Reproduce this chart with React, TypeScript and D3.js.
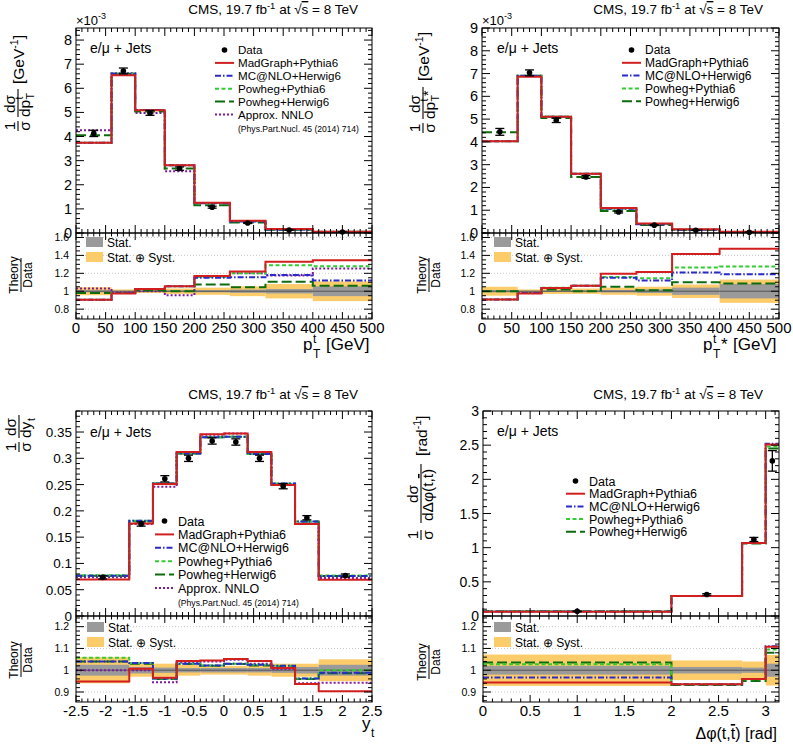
import React from "react";
import * as d3 from "d3";

const FONT = "'Liberation Sans', Arial, Helvetica, sans-serif";
const YELLOW = "#fdcc6a";
const GRAY = "#9a9a9a";

// ===== top-left: p_T^t =====
const ptEdges = [0, 60, 100, 150, 200, 260, 320, 400, 500];
const ptData = [4.13, 6.72, 4.98, 2.67, 1.07, 0.415, 0.125, 0.04];
const ptDataErr = [0.13, 0.12, 0.1, 0.07, 0.04, 0.02, 0.008, 0.004];
const ptMadGraph = [3.74, 6.54, 5.09, 2.81, 1.25, 0.505, 0.166, 0.054];
const ptMcAtNlo = [3.74, 6.6, 5.1, 2.81, 1.23, 0.48, 0.147, 0.045];
const ptPowhegPythia = [3.74, 6.6, 5.1, 2.81, 1.24, 0.498, 0.161, 0.051];
const ptPowhegHerwig = [4.05, 6.6, 5.04, 2.67, 1.15, 0.432, 0.138, 0.042];
const ptNnlo = [4.26, 6.62, 4.98, 2.56, 1.24, 0.498, 0.147, 0.05];
const ptRatioMadGraph = [0.905, 0.975, 1.025, 1.055, 1.17, 1.22, 1.33, 1.345];
const ptRatioMcAtNlo = [0.905, 0.98, 1.025, 1.055, 1.15, 1.155, 1.18, 1.12];
const ptRatioPowhegPythia = [0.905, 0.98, 1.025, 1.055, 1.16, 1.2, 1.29, 1.28];
const ptRatioPowhegHerwig = [0.98, 0.98, 1.01, 1.0, 1.075, 1.045, 1.105, 1.06];
const ptRatioNnlo = [1.03, 0.985, 1.0, 0.955, 1.165, 1.2, 1.175, 1.255];
const ptStat = [0.012, 0.006, 0.007, 0.009, 0.012, 0.018, 0.025, 0.055];
const ptSyst = [0.045, 0.02, 0.02, 0.03, 0.04, 0.055, 0.08, 0.11];

// ===== top-right: p_T^t* =====
const ptsEdges = [0, 60, 100, 150, 200, 260, 320, 400, 500];
const ptsData = [4.44, 7.03, 4.95, 2.46, 0.92, 0.345, 0.12, 0.034];
const ptsDataErr = [0.15, 0.13, 0.1, 0.06, 0.04, 0.02, 0.008, 0.004];
const ptsMadGraph = [4.03, 6.86, 5.1, 2.6, 1.1, 0.42, 0.17, 0.05];
const ptsMcAtNlo = [4.03, 6.9, 5.1, 2.6, 1.06, 0.387, 0.146, 0.04];
const ptsPowhegPythia = [4.03, 6.9, 5.12, 2.6, 1.07, 0.396, 0.152, 0.043];
const ptsPowhegHerwig = [4.42, 6.9, 5.05, 2.46, 0.97, 0.348, 0.132, 0.037];
const ptsRatioMadGraph = [0.908, 0.975, 1.035, 1.06, 1.195, 1.215, 1.415, 1.475];
const ptsRatioMcAtNlo = [0.908, 0.98, 1.035, 1.06, 1.15, 1.12, 1.21, 1.19];
const ptsRatioPowhegPythia = [0.908, 0.98, 1.04, 1.06, 1.16, 1.145, 1.265, 1.275];
const ptsRatioPowhegHerwig = [1.0, 0.98, 1.02, 1.0, 1.05, 1.01, 1.1, 1.085];
const ptsStat = [0.012, 0.006, 0.008, 0.01, 0.014, 0.02, 0.04, 0.08];
const ptsSyst = [0.05, 0.02, 0.03, 0.03, 0.04, 0.05, 0.075, 0.13];

// ===== bottom-left: y_t =====
const ytEdges = [-2.5, -1.6, -1.2, -0.8, -0.4, 0, 0.4, 0.8, 1.2, 1.6, 2.5];
const ytData = [0.0735, 0.175, 0.261, 0.3, 0.333, 0.331, 0.3, 0.247, 0.187, 0.077];
const ytDataErr = [0.003, 0.004, 0.006, 0.006, 0.006, 0.006, 0.006, 0.005, 0.004, 0.003];
const ytMadGraph = [0.0695, 0.176, 0.251, 0.312, 0.346, 0.347, 0.312, 0.249, 0.175, 0.069];
const ytMcAtNlo = [0.0765, 0.181, 0.252, 0.309, 0.34, 0.341, 0.308, 0.252, 0.18, 0.076];
const ytPowhegPythia = [0.0775, 0.181, 0.252, 0.309, 0.34, 0.341, 0.308, 0.252, 0.18, 0.077];
const ytPowhegHerwig = [0.0765, 0.18, 0.252, 0.309, 0.34, 0.341, 0.308, 0.251, 0.18, 0.076];
const ytNnlo = [0.0735, 0.175, 0.246, 0.311, 0.345, 0.347, 0.309, 0.249, 0.176, 0.0725];
const ytRatioMadGraph = [0.948, 1.007, 0.965, 1.042, 1.045, 1.052, 1.042, 1.01, 0.937, 0.903];
const ytRatioMcAtNlo = [1.04, 1.033, 0.962, 1.03, 1.022, 1.03, 1.025, 1.02, 0.962, 0.988];
const ytRatioPowhegPythia = [1.057, 1.033, 0.962, 1.03, 1.022, 1.03, 1.025, 1.02, 0.962, 1.0];
const ytRatioPowhegHerwig = [1.04, 1.03, 0.96, 1.028, 1.02, 1.028, 1.022, 1.017, 0.96, 0.986];
const ytRatioNnlo = [1.0, 1.0, 0.945, 1.036, 1.04, 1.048, 1.03, 1.006, 0.94, 0.942];
const ytStat = [0.025, 0.015, 0.012, 0.01, 0.01, 0.01, 0.01, 0.012, 0.015, 0.025];
const ytSyst = [0.06, 0.03, 0.03, 0.025, 0.02, 0.02, 0.025, 0.03, 0.03, 0.05];

// ===== bottom-right: delta phi(t, tbar) =====
const dphiEdges = [0, 2, 2.75, 3, Math.PI];
const dphiData = [0.068, 0.315, 1.12, 2.27];
const dphiDataErr = [0.005, 0.012, 0.03, 0.15];
const dphiMadGraph = [0.064, 0.294, 1.07, 2.51];
const dphiMcAtNlo = [0.066, 0.294, 1.07, 2.52];
const dphiPowhegPythia = [0.07, 0.294, 1.07, 2.48];
const dphiPowhegHerwig = [0.07, 0.292, 1.06, 2.45];
const dphiRatioMadGraph = [0.943, 0.935, 0.96, 1.108];
const dphiRatioMcAtNlo = [0.966, 0.935, 0.96, 1.11];
const dphiRatioPowhegPythia = [1.027, 0.935, 0.958, 1.095];
const dphiRatioPowhegHerwig = [1.035, 0.932, 0.95, 1.08];
const dphiStat = [0.02, 0.015, 0.012, 0.03];
const dphiSyst = [0.072, 0.045, 0.04, 0.07];

// ===== tick labels =====
const ptXTicks = [0, 50, 100, 150, 200, 250, 300, 350, 400, 450, 500];
const ptXLabels = ["0", "50", "100", "150", "200", "250", "300", "350", "400", "450", "500"];
const ytXTicks = [-2.5, -2, -1.5, -1, -0.5, 0, 0.5, 1, 1.5, 2, 2.5];
const ytXLabels = ["-2.5", "-2", "-1.5", "-1", "-0.5", "0", "0.5", "1", "1.5", "2", "2.5"];
const dphiXTicks = [0, 0.5, 1, 1.5, 2, 2.5, 3];
const dphiXLabels = ["0", "0.5", "1", "1.5", "2", "2.5", "3"];
const ptYTicks = [0, 1, 2, 3, 4, 5, 6, 7, 8];
const ptYLabels = ["0", "1", "2", "3", "4", "5", "6", "7", "8"];
const ptsYTicks = [0, 1, 2, 3, 4, 5, 6, 7, 8, 9];
const ptsYLabels = ["0", "1", "2", "3", "4", "5", "6", "7", "8", "9"];
const ytYTicks = [0, 0.05, 0.1, 0.15, 0.2, 0.25, 0.3, 0.35];
const ytYLabels = ["0", "0.05", "0.1", "0.15", "0.2", "0.25", "0.3", "0.35"];
const dphiYTicks = [0, 0.5, 1, 1.5, 2, 2.5, 3];
const dphiYLabels = ["0", "0.5", "1", "1.5", "2", "2.5", "3"];
const rTopTicks = [0.8, 1, 1.2, 1.4, 1.6];
const rTopLabels = ["0.8", "1", "1.2", "1.4", "1.6"];
const rBotTicks = [0.9, 1, 1.1, 1.2];
const rBotLabels = ["0.9", "1", "1.1", "1.2"];

type ModelKey = "mg" | "mc" | "pp" | "ph" | "nnlo";
const STYLE: Record<ModelKey, { color: string; dash?: string; label: string }> = {
  mg: { color: "#d11f1f", label: "MadGraph+Pythia6" },
  mc: { color: "#2a2ac8", dash: "6,2,1.5,2", label: "MC@NLO+Herwig6" },
  pp: { color: "#33cc33", dash: "4,2.5", label: "Powheg+Pythia6" },
  ph: { color: "#0d6b0d", dash: "10,4", label: "Powheg+Herwig6" },
  nnlo: { color: "#7d1a9e", dash: "2,2", label: "Approx. NNLO" },
};

interface PanelCfg {
  id: string;
  left: number; right: number; top: number; mid: number; bottom: number;
  edges: number[]; xDomain: [number, number];
  yDomain: [number, number]; rDomain: [number, number];
  data: number[]; dataErr: number[];
  models: { key: ModelKey; main: number[]; ratio: number[] }[];
  stat: number[]; syst: number[];
  xTicks: number[]; xLabels: string[]; xMinorStep: number;
  yTicks: number[]; yLabels: string[]; yMinorStep: number; yFont: number;
  rTicks: number[]; rLabels: string[]; rMinorStep: number;
  legend: { x: number; y: number; dy: number; font: number; cite: boolean };
  rLegend: { x: number; y: number };
  titleEnd: number; titleY: number;
  tagX: number; tagY: number;
  exp: boolean;
}

const panels: PanelCfg[] = [
  {
    id: "tl", left: 76, right: 372, top: 28, mid: 233, bottom: 319,
    edges: ptEdges, xDomain: [0, 500], yDomain: [0, 8.5], rDomain: [0.69, 1.65],
    data: ptData, dataErr: ptDataErr,
    models: [
      { key: "mg", main: ptMadGraph, ratio: ptRatioMadGraph },
      { key: "mc", main: ptMcAtNlo, ratio: ptRatioMcAtNlo },
      { key: "pp", main: ptPowhegPythia, ratio: ptRatioPowhegPythia },
      { key: "ph", main: ptPowhegHerwig, ratio: ptRatioPowhegHerwig },
      { key: "nnlo", main: ptNnlo, ratio: ptRatioNnlo },
    ],
    stat: ptStat, syst: ptSyst,
    xTicks: ptXTicks, xLabels: ptXLabels, xMinorStep: 10,
    yTicks: ptYTicks, yLabels: ptYLabels, yMinorStep: 0.2, yFont: 14.5,
    rTicks: rTopTicks, rLabels: rTopLabels, rMinorStep: 0.05,
    legend: { x: 215, y: 50, dy: 12.9, font: 11.6, cite: true },
    rLegend: { x: 86, y: 237 },
    titleEnd: 358, titleY: 14, tagX: 90, tagY: 53, exp: true,
  },
  {
    id: "tr", left: 482, right: 779, top: 28, mid: 233, bottom: 319,
    edges: ptsEdges, xDomain: [0, 500], yDomain: [0, 9], rDomain: [0.69, 1.65],
    data: ptsData, dataErr: ptsDataErr,
    models: [
      { key: "mg", main: ptsMadGraph, ratio: ptsRatioMadGraph },
      { key: "mc", main: ptsMcAtNlo, ratio: ptsRatioMcAtNlo },
      { key: "pp", main: ptsPowhegPythia, ratio: ptsRatioPowhegPythia },
      { key: "ph", main: ptsPowhegHerwig, ratio: ptsRatioPowhegHerwig },
    ],
    stat: ptsStat, syst: ptsSyst,
    xTicks: ptXTicks, xLabels: ptXLabels, xMinorStep: 10,
    yTicks: ptsYTicks, yLabels: ptsYLabels, yMinorStep: 0.2, yFont: 14.5,
    rTicks: rTopTicks, rLabels: rTopLabels, rMinorStep: 0.05,
    legend: { x: 622, y: 50, dy: 12.8, font: 12, cite: false },
    rLegend: { x: 494, y: 237 },
    titleEnd: 763, titleY: 14, tagX: 497, tagY: 53, exp: true,
  },
  {
    id: "bl", left: 76, right: 372, top: 411, mid: 616, bottom: 702,
    edges: ytEdges, xDomain: [-2.5, 2.5], yDomain: [0, 0.39], rDomain: [0.854, 1.249],
    data: ytData, dataErr: ytDataErr,
    models: [
      { key: "mg", main: ytMadGraph, ratio: ytRatioMadGraph },
      { key: "mc", main: ytMcAtNlo, ratio: ytRatioMcAtNlo },
      { key: "pp", main: ytPowhegPythia, ratio: ytRatioPowhegPythia },
      { key: "ph", main: ytPowhegHerwig, ratio: ytRatioPowhegHerwig },
      { key: "nnlo", main: ytNnlo, ratio: ytRatioNnlo },
    ],
    stat: ytStat, syst: ytSyst,
    xTicks: ytXTicks, xLabels: ytXLabels, xMinorStep: 0.1,
    yTicks: ytYTicks, yLabels: ytYLabels, yMinorStep: 0.01, yFont: 13.5,
    rTicks: rBotTicks, rLabels: rBotLabels, rMinorStep: 0.02,
    legend: { x: 155, y: 521, dy: 13.4, font: 12.5, cite: true },
    rLegend: { x: 87, y: 622 },
    titleEnd: 358, titleY: 399, tagX: 90, tagY: 437, exp: false,
  },
  {
    id: "br", left: 483, right: 779, top: 411, mid: 616, bottom: 702,
    edges: dphiEdges, xDomain: [0, Math.PI], yDomain: [0, 3], rDomain: [0.854, 1.249],
    data: dphiData, dataErr: dphiDataErr,
    models: [
      { key: "mg", main: dphiMadGraph, ratio: dphiRatioMadGraph },
      { key: "mc", main: dphiMcAtNlo, ratio: dphiRatioMcAtNlo },
      { key: "pp", main: dphiPowhegPythia, ratio: dphiRatioPowhegPythia },
      { key: "ph", main: dphiPowhegHerwig, ratio: dphiRatioPowhegHerwig },
    ],
    stat: dphiStat, syst: dphiSyst,
    xTicks: dphiXTicks, xLabels: dphiXLabels, xMinorStep: 0.1,
    yTicks: dphiYTicks, yLabels: dphiYLabels, yMinorStep: 0.1, yFont: 14,
    rTicks: rBotTicks, rLabels: rBotLabels, rMinorStep: 0.02,
    legend: { x: 566, y: 481, dy: 12.7, font: 12.5, cite: false },
    rLegend: { x: 494, y: 622 },
    titleEnd: 763, titleY: 399, tagX: 497, tagY: 436, exp: false,
  },
];

function minorTicks(domain: [number, number], step: number): number[] {
  const start = Math.ceil(domain[0] / step - 1e-6);
  const end = Math.floor(domain[1] / step + 1e-6);
  return d3.range(start, end + 1).map((k) => k * step);
}

function Panel({ c }: { c: PanelCfg }) {
  const x = d3.scaleLinear().domain(c.xDomain).range([c.left, c.right]);
  const y = d3.scaleLinear().domain(c.yDomain).range([c.mid, c.top]);
  const r = d3.scaleLinear().domain(c.rDomain).range([c.bottom, c.mid]);
  const step = (vals: number[], sc: d3.ScaleLinear<number, number>) =>
    d3
      .line<number>()
      .x((e) => x(e))
      .y((_, i) => sc(vals[Math.min(i, vals.length - 1)]))
      .curve(d3.curveStepAfter)(c.edges) || "";
  const centers = c.edges.slice(0, -1).map((e, i) => (e + c.edges[i + 1]) / 2);
  const W = c.right - c.left;
  const order = [...c.models].reverse();

  let tk = "";
  const seg = (x1: number, y1: number, x2: number, y2: number) => {
    tk += `M${x1},${y1}L${x2},${y2}`;
  };
  minorTicks(c.xDomain, c.xMinorStep).forEach((v) => {
    const px = x(v);
    const major = c.xTicks.some((t) => Math.abs(t - v) < 1e-6);
    const lm = major ? 8 : 4;
    const lr = major ? 7 : 3.5;
    seg(px, c.top, px, c.top + lm);
    seg(px, c.mid, px, c.mid - lm);
    seg(px, c.mid, px, c.mid + lr);
    seg(px, c.bottom, px, c.bottom - lr);
  });
  minorTicks(c.yDomain, c.yMinorStep).forEach((v) => {
    const py = y(v);
    const major = c.yTicks.some((t) => Math.abs(t - v) < 1e-6);
    const l = major ? 8 : 4;
    seg(c.left, py, c.left + l, py);
    seg(c.right, py, c.right - l, py);
  });
  minorTicks(c.rDomain, c.rMinorStep).forEach((v) => {
    const py = r(v);
    const major = c.rTicks.some((t) => Math.abs(t - v) < 1e-6);
    const l = major ? 8 : 4;
    seg(c.left, py, c.left + l, py);
    seg(c.right, py, c.right - l, py);
  });

  const lg = c.legend;
  const legendKeys = c.models.map((m) => m.key);

  return (
    <g>
      <defs>
        <clipPath id={`${c.id}-mc`}>
          <rect x={c.left} y={c.top} width={W} height={c.mid - c.top} />
        </clipPath>
        <clipPath id={`${c.id}-rc`}>
          <rect x={c.left} y={c.mid} width={W} height={c.bottom - c.mid} />
        </clipPath>
      </defs>

      <g clipPath={`url(#${c.id}-rc)`}>
        {c.syst.map((s, i) => (
          <rect key={"sy" + i} x={x(c.edges[i])} width={x(c.edges[i + 1]) - x(c.edges[i])}
            y={r(1 + s)} height={r(1 - s) - r(1 + s)} fill={YELLOW} />
        ))}
        {c.stat.map((s, i) => (
          <rect key={"st" + i} x={x(c.edges[i])} width={x(c.edges[i + 1]) - x(c.edges[i])}
            y={r(1 + s)} height={r(1 - s) - r(1 + s)} fill={GRAY} />
        ))}
        {c.rTicks.filter((t) => t !== 1).map((t) => (
          <line key={"g" + t} x1={c.left} x2={c.right} y1={r(t)} y2={r(t)} stroke="#c8c8c8" strokeDasharray="1,2" strokeWidth={1} />
        ))}
        <line x1={c.left} x2={c.right} y1={r(1)} y2={r(1)} stroke="#555" strokeWidth={1} />
        {order.map((m) => (
          <path key={"r" + m.key} d={step(m.ratio, r)} fill="none" stroke={STYLE[m.key].color}
            strokeWidth={2} strokeDasharray={STYLE[m.key].dash} />
        ))}
      </g>

      <g clipPath={`url(#${c.id}-mc)`}>
        {order.map((m) => (
          <path key={"m" + m.key} d={step(m.main, y)} fill="none" stroke={STYLE[m.key].color}
            strokeWidth={2} strokeDasharray={STYLE[m.key].dash} />
        ))}
      </g>
      {c.data.map((v, i) => {
        const px = x(centers[i]);
        const y1 = y(v - c.dataErr[i]);
        const y2 = y(v + c.dataErr[i]);
        return (
          <g key={"d" + i} stroke="#000" strokeWidth={1.3}>
            <line x1={px} x2={px} y1={y1} y2={y2} />
            <line x1={px - 4.5} x2={px + 4.5} y1={y1} y2={y1} />
            <line x1={px - 4.5} x2={px + 4.5} y1={y2} y2={y2} />
            <circle cx={px} cy={y(v)} r={2.8} fill="#000" stroke="none" />
          </g>
        );
      })}

      <path d={tk} stroke="#000" strokeWidth={1} fill="none" />
      <rect x={c.left} y={c.top} width={W} height={c.mid - c.top} fill="none" stroke="#000" strokeWidth={1} />
      <rect x={c.left} y={c.mid} width={W} height={c.bottom - c.mid} fill="none" stroke="#000" strokeWidth={1} />

      {c.xTicks.map((t, i) => (
        <text key={"xl" + i} x={x(t)} y={c.bottom + 14} fontSize={15} textAnchor="middle">{c.xLabels[i]}</text>
      ))}
      {c.yTicks.map((t, i) => (
        <text key={"yl" + i} x={c.left - 4} y={y(t) + 5} fontSize={c.yFont} textAnchor="end">{c.yLabels[i]}</text>
      ))}
      {c.rTicks.map((t, i) => (
        <text key={"rl" + i} x={c.left - 7} y={r(t) + 3.8} fontSize={10.5} textAnchor="end">{c.rLabels[i]}</text>
      ))}

      <text x={c.titleEnd} y={c.titleY} fontSize={13.5} textAnchor="end">
        CMS, 19.7 fb<tspan fontSize={9.5} dy={-5}>-1</tspan>
        <tspan dy={5}> at </tspan>
        <tspan>√</tspan>
        <tspan style={{ textDecoration: "overline" }}>s</tspan>
        <tspan> = 8 TeV</tspan>
      </text>
      <text x={c.tagX} y={c.tagY} fontSize={14}>e/μ + Jets</text>
      {c.exp && (
        <text x={c.left} y={25} fontSize={13}>
          ×10<tspan fontSize={9} dy={-6}>-3</tspan>
        </text>
      )}

      <circle cx={lg.x + 9.5} cy={lg.y} r={2.8} fill="#000" />
      <text x={lg.x + 23} y={lg.y + lg.font * 0.36} fontSize={lg.font}>Data</text>
      {legendKeys.map((k, i) => {
        const yy = lg.y + lg.dy * (i + 1);
        return (
          <g key={"lg" + k}>
            <line x1={lg.x} x2={lg.x + 19} y1={yy} y2={yy} stroke={STYLE[k].color} strokeWidth={2} strokeDasharray={STYLE[k].dash} />
            <text x={lg.x + 23} y={yy + lg.font * 0.36} fontSize={lg.font}>{STYLE[k].label}</text>
          </g>
        );
      })}
      {lg.cite && (
        <text x={lg.x + 23} y={lg.y + lg.dy * (legendKeys.length + 1) + 5} fontSize={8.6}>
          (Phys.Part.Nucl. 45 (2014) 714)
        </text>
      )}

      <rect x={c.rLegend.x} y={c.rLegend.y} width={17} height={10} fill={GRAY} />
      <rect x={c.rLegend.x} y={c.rLegend.y + 15} width={17} height={10} fill={YELLOW} />
      <text x={c.rLegend.x + 21} y={c.rLegend.y + 9.5} fontSize={12}>Stat.</text>
      <text x={c.rLegend.x + 21} y={c.rLegend.y + 24.5} fontSize={12}>Stat. ⊕ Syst.</text>
    </g>
  );
}

function TheoryData({ cx, cy }: { cx: number; cy: number }) {
  return (
    <g transform={`translate(${cx},${cy}) rotate(-90)`} fontSize={12}>
      <text x={0} y={-3} textAnchor="middle">Theory</text>
      <line x1={-17} x2={17} y1={0} y2={0} stroke="#000" strokeWidth={1} />
      <text x={0} y={11} textAnchor="middle">Data</text>
    </g>
  );
}

function OneOverSigma() {
  return (
    <g>
      <text x={5} y={-3} textAnchor="middle">1</text>
      <line x1={0} x2={10} y1={0} y2={0} stroke="#000" strokeWidth={1.1} />
      <text x={5} y={12} textAnchor="middle">σ</text>
    </g>
  );
}

export default function App() {
  return (
    <svg width={793} height={746} fontFamily={FONT}
      style={{ position: "absolute", left: 0, top: 0, background: "#fff" }}>
      <rect x={0} y={0} width={793} height={746} fill="#fff" />
      {panels.map((p) => (
        <Panel key={p.id} c={p} />
      ))}

      <g transform="translate(18,131) rotate(-90)" fontSize={15.5}>
        <OneOverSigma />
        <text x={27} y={-3} textAnchor="middle">dσ</text>
        <line x1={14} x2={42} y1={0} y2={0} stroke="#000" strokeWidth={1.1} />
        <text x={14} y={12}>dp</text>
        <text x={31.5} y={16} fontSize={10.5}>T</text>
        <text x={31.5} y={5} fontSize={10.5}>t</text>
        <text x={47} y={6}>[GeV<tspan fontSize={10.5} dy={-6}>-1</tspan><tspan dy={6}>]</tspan></text>
      </g>
      <g transform="translate(423,133) rotate(-90)" fontSize={15.5}>
        <OneOverSigma />
        <text x={29} y={-3} textAnchor="middle">dσ</text>
        <line x1={14} x2={46} y1={0} y2={0} stroke="#000" strokeWidth={1.1} />
        <text x={14} y={12}>dp</text>
        <text x={31.5} y={16} fontSize={10.5}>T</text>
        <text x={31.5} y={5} fontSize={10.5}>t</text>
        <text x={37} y={10} fontSize={14}>*</text>
        <text x={52} y={6}>[GeV<tspan fontSize={10.5} dy={-6}>-1</tspan><tspan dy={6}>]</tspan></text>
      </g>
      <g transform="translate(19,452) rotate(-90)" fontSize={15.5}>
        <OneOverSigma />
        <text x={25} y={-3} textAnchor="middle">dσ</text>
        <line x1={14} x2={37} y1={0} y2={0} stroke="#000" strokeWidth={1.1} />
        <text x={14} y={12}>dy</text>
        <text x={31} y={16} fontSize={10.5}>t</text>
      </g>
      <g transform="translate(421,540) rotate(-90)" fontSize={15.5}>
        <OneOverSigma />
        <text x={46} y={-3} textAnchor="middle">dσ</text>
        <line x1={17} x2={76} y1={0} y2={0} stroke="#000" strokeWidth={1.1} />
        <text x={19} y={12}>
          dΔφ(t,<tspan style={{ textDecoration: "overline" }}>t</tspan>)
        </text>
        <text x={84} y={6}>[rad<tspan fontSize={10.5} dy={-6}>-1</tspan><tspan dy={6}>]</tspan></text>
      </g>

      <TheoryData cx={21} cy={275} />
      <TheoryData cx={429} cy={275} />
      <TheoryData cx={21} cy={660} />
      <TheoryData cx={429} cy={662} />

      <g fontSize={17}>
        <text x={303} y={350}>p</text>
        <text x={313} y={358} fontSize={12}>T</text>
        <text x={313} y={343} fontSize={12}>t</text>
        <text x={326} y={350}>[GeV]</text>

        <text x={703} y={350}>p</text>
        <text x={713} y={358} fontSize={12}>T</text>
        <text x={713} y={343} fontSize={12}>t</text>
        <text x={721} y={350}>*</text>
        <text x={733} y={350}>[GeV]</text>

        <text x={362} y={729}>y</text>
        <text x={371} y={737} fontSize={12}>t</text>

        <text x={777} y={739} textAnchor="end" fontSize={16}>
          Δφ(t,<tspan style={{ textDecoration: "overline" }}>t</tspan>) [rad]
        </text>
      </g>
    </svg>
  );
}
